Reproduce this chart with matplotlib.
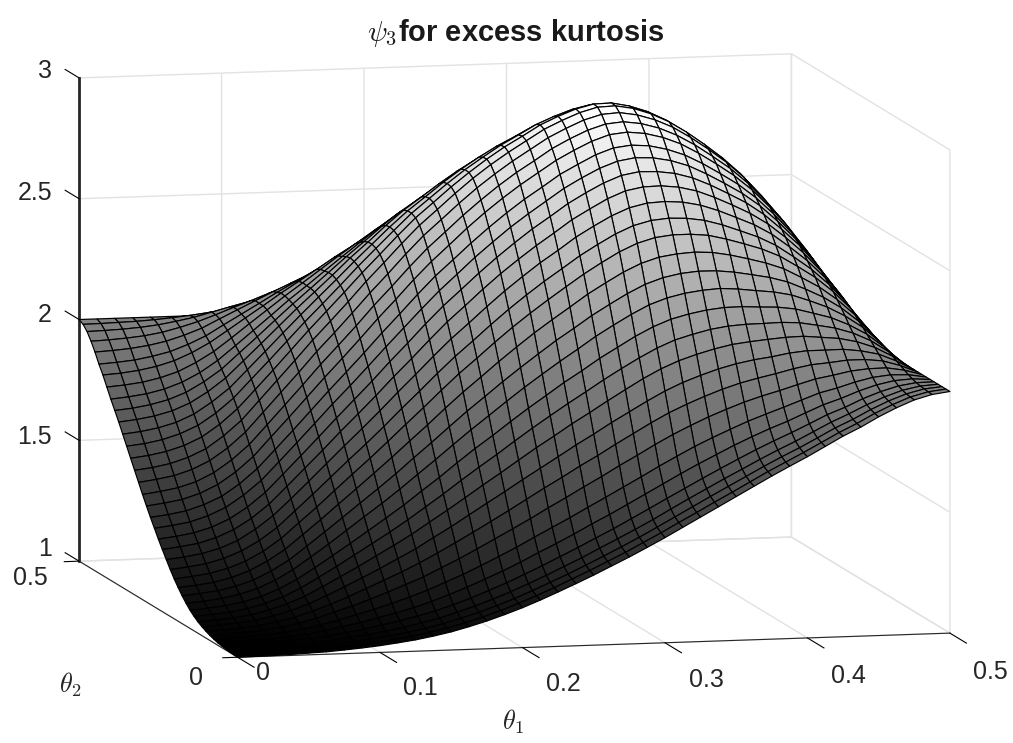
import numpy as np
import matplotlib
matplotlib.use("Agg")
import matplotlib.pyplot as plt

plt.rcParams["font.family"] = ["Liberation Sans", "DejaVu Sans"]
plt.rcParams["mathtext.fontset"] = "cm"

# surface heights, thousandths, lower triangle (the surface is symmetric)
theta_step = 0.0125
z_rows = [
    [1000],
    [1001, 1002],
    [1002, 1003, 1004],
    [1004, 1005, 1007, 1010],
    [1007, 1009, 1010, 1014, 1019],
    [1010, 1012, 1014, 1019, 1025, 1033],
    [1015, 1017, 1020, 1026, 1034, 1045, 1059],
    [1021, 1024, 1028, 1035, 1045, 1059, 1077, 1100],
    [1028, 1031, 1036, 1044, 1057, 1074, 1096, 1122, 1151],
    [1037, 1041, 1047, 1056, 1071, 1091, 1116, 1148, 1182, 1217],
    [1047, 1052, 1058, 1069, 1086, 1109, 1138, 1175, 1214, 1253, 1295],
    [1060, 1065, 1072, 1085, 1103, 1128, 1162, 1204, 1246, 1291, 1336, 1381],
    [1075, 1081, 1089, 1102, 1122, 1151, 1188, 1233, 1281, 1329, 1379, 1429, 1480],
    [1094, 1100, 1109, 1124, 1145, 1177, 1218, 1268, 1319, 1373, 1427, 1480, 1536, 1595],
    [1115, 1122, 1131, 1147, 1170, 1205, 1248, 1303, 1359, 1416, 1474, 1531, 1590, 1653, 1714],
    [1139, 1146, 1156, 1173, 1199, 1236, 1282, 1341, 1400, 1462, 1523, 1585, 1648, 1713, 1777, 1844],
    [1165, 1173, 1183, 1201, 1228, 1267, 1317, 1380, 1442, 1508, 1573, 1637, 1704, 1772, 1839, 1908, 1975],
    [1194, 1202, 1213, 1232, 1261, 1301, 1353, 1419, 1485, 1553, 1621, 1687, 1756, 1828, 1897, 1968, 2036, 2098],
    [1225, 1233, 1245, 1264, 1294, 1338, 1392, 1459, 1529, 1600, 1671, 1740, 1811, 1885, 1956, 2029, 2099, 2162, 2227],
    [1257, 1266, 1277, 1298, 1329, 1373, 1430, 1501, 1573, 1645, 1720, 1791, 1864, 1940, 2012, 2087, 2159, 2223, 2289, 2351],
    [1290, 1299, 1311, 1332, 1364, 1410, 1468, 1541, 1615, 1690, 1766, 1840, 1914, 1992, 2066, 2143, 2215, 2280, 2346, 2408, 2466],
    [1325, 1334, 1346, 1369, 1401, 1449, 1508, 1583, 1659, 1736, 1814, 1888, 1965, 2043, 2119, 2195, 2268, 2334, 2401, 2462, 2521, 2574],
    [1360, 1369, 1382, 1405, 1437, 1486, 1547, 1623, 1700, 1779, 1858, 1934, 2011, 2091, 2167, 2245, 2319, 2384, 2450, 2512, 2570, 2624, 2672],
    [1397, 1407, 1419, 1442, 1476, 1525, 1587, 1666, 1744, 1824, 1904, 1981, 2060, 2141, 2217, 2296, 2369, 2435, 2502, 2564, 2621, 2674, 2722, 2770],
    [1435, 1445, 1458, 1480, 1515, 1565, 1627, 1706, 1786, 1866, 1948, 2025, 2103, 2185, 2261, 2340, 2414, 2479, 2545, 2606, 2663, 2715, 2761, 2809, 2847],
    [1475, 1485, 1498, 1521, 1555, 1605, 1668, 1748, 1828, 1908, 1991, 2067, 2146, 2227, 2303, 2382, 2456, 2520, 2585, 2646, 2701, 2752, 2798, 2844, 2880, 2912],
    [1515, 1524, 1538, 1561, 1594, 1645, 1707, 1787, 1867, 1947, 2029, 2105, 2183, 2264, 2339, 2416, 2489, 2552, 2616, 2676, 2730, 2779, 2824, 2869, 2903, 2933, 2953],
    [1555, 1564, 1578, 1600, 1633, 1683, 1745, 1822, 1900, 1980, 2060, 2136, 2212, 2290, 2364, 2439, 2510, 2571, 2633, 2690, 2743, 2791, 2833, 2877, 2910, 2938, 2956, 2958],
    [1595, 1603, 1617, 1639, 1671, 1719, 1779, 1855, 1930, 2007, 2084, 2157, 2231, 2307, 2379, 2450, 2519, 2578, 2637, 2692, 2741, 2788, 2828, 2869, 2900, 2926, 2943, 2943, 2928],
    [1635, 1643, 1656, 1676, 1708, 1755, 1811, 1884, 1957, 2031, 2104, 2175, 2245, 2317, 2386, 2455, 2519, 2575, 2632, 2684, 2731, 2774, 2811, 2850, 2879, 2903, 2918, 2918, 2902, 2877],
    [1675, 1683, 1695, 1714, 1744, 1788, 1842, 1911, 1980, 2050, 2120, 2186, 2253, 2322, 2385, 2451, 2512, 2564, 2617, 2666, 2710, 2750, 2785, 2821, 2847, 2870, 2883, 2882, 2866, 2841, 2806],
    [1713, 1720, 1732, 1750, 1778, 1819, 1869, 1934, 1998, 2064, 2129, 2191, 2254, 2317, 2377, 2438, 2494, 2543, 2592, 2637, 2678, 2714, 2747, 2780, 2805, 2825, 2837, 2834, 2819, 2794, 2762, 2719],
    [1750, 1757, 1767, 1784, 1810, 1847, 1895, 1954, 2014, 2074, 2136, 2192, 2250, 2308, 2364, 2420, 2472, 2516, 2561, 2603, 2640, 2673, 2703, 2733, 2755, 2774, 2784, 2781, 2766, 2743, 2712, 2671, 2626],
    [1790, 1796, 1805, 1821, 1844, 1879, 1922, 1976, 2032, 2087, 2142, 2194, 2247, 2300, 2350, 2400, 2448, 2488, 2529, 2566, 2600, 2629, 2656, 2682, 2702, 2718, 2726, 2724, 2709, 2687, 2658, 2620, 2578, 2534],
    [1830, 1835, 1844, 1858, 1879, 1910, 1949, 1997, 2046, 2094, 2144, 2190, 2237, 2285, 2329, 2374, 2416, 2451, 2487, 2520, 2549, 2575, 2598, 2621, 2638, 2652, 2659, 2655, 2642, 2621, 2594, 2560, 2521, 2481, 2433],
    [1865, 1870, 1877, 1890, 1907, 1934, 1967, 2010, 2052, 2094, 2137, 2177, 2217, 2259, 2297, 2335, 2371, 2401, 2432, 2461, 2485, 2508, 2528, 2547, 2561, 2572, 2578, 2574, 2562, 2544, 2519, 2489, 2456, 2420, 2378, 2330],
    [1905, 1909, 1915, 1925, 1940, 1962, 1989, 2025, 2060, 2095, 2130, 2163, 2196, 2230, 2261, 2293, 2323, 2347, 2372, 2395, 2416, 2433, 2449, 2465, 2475, 2484, 2488, 2485, 2474, 2457, 2437, 2412, 2383, 2352, 2317, 2276, 2231],
    [1940, 1943, 1948, 1955, 1967, 1985, 2006, 2032, 2060, 2086, 2114, 2140, 2164, 2191, 2215, 2239, 2262, 2281, 2299, 2316, 2331, 2345, 2357, 2369, 2376, 2382, 2385, 2382, 2373, 2360, 2343, 2323, 2300, 2276, 2248, 2216, 2180, 2140],
    [1970, 1972, 1975, 1980, 1988, 2000, 2014, 2033, 2052, 2070, 2088, 2106, 2123, 2141, 2156, 2173, 2188, 2201, 2214, 2225, 2235, 2244, 2251, 2259, 2264, 2267, 2268, 2267, 2260, 2250, 2238, 2224, 2208, 2192, 2172, 2149, 2124, 2097, 2067],
    [1990, 1991, 1993, 1995, 1999, 2005, 2012, 2021, 2030, 2039, 2049, 2058, 2066, 2075, 2083, 2090, 2099, 2104, 2110, 2117, 2121, 2125, 2129, 2132, 2134, 2137, 2137, 2136, 2132, 2127, 2121, 2113, 2105, 2097, 2086, 2076, 2063, 2048, 2034, 2017],
    [2000, 2000, 2000, 2000, 2000, 2000, 2000, 2000, 2000, 2000, 2000, 2000, 2000, 2000, 2000, 2000, 2000, 2000, 2000, 2000, 2000,
     2000, 2000, 2000, 2000, 2000, 2000, 2000, 2000, 2000, 2000, 2000, 2000, 2000, 2000, 2000, 2000, 2000, 2000, 2000, 2000],
]
x_ticks = [0, 0.1, 0.2, 0.3, 0.4, 0.5]
y_ticks = [0, 0.5]
z_ticks = [1, 1.5, 2, 2.5, 3]
x_tick_labels = ["0", "0.1", "0.2", "0.3", "0.4", "0.5"]
y_tick_labels = ["0", "0.5"]
z_tick_labels = ["1", "1.5", "2", "2.5", "3"]


def px_text(x, y, s, **kwargs):
    """Text at a pixel position of the 1013x743 figure; the 3D axis cannot place labels this freely."""
    fig.text(x / 1013, 1 - y / 743, s, va="center", color="#262626", **kwargs)


n = len(z_rows)
z = np.zeros((n, n))
for i, row in enumerate(z_rows):
    z[i, :len(row)] = row
    z[:len(row), i] = row
z = z / 1000.0
theta = np.arange(n) * theta_step
X, Y = np.meshgrid(theta, theta)

fig = plt.figure(figsize=(10.13, 7.43), dpi=100)
ax = fig.add_axes([-0.002, 0.008, 1.0, 1.0], projection="3d", proj_type="ortho")
ax.view_init(elev=8.24, azim=-103.3)
ax.set_box_aspect((730, 687, 487), zoom=1.46)

surf = ax.plot_surface(X, Y, z, rstride=1, cstride=1, cmap="gray", vmin=1, vmax=z.max(),
                       edgecolor="k", linewidth=0.85, shade=False)
surf.set_clip_on(False)

ax.set_xlim(0, 0.5, view_margin=0)
ax.set_ylim(0, 0.5, view_margin=0)
ax.set_zlim(1, 3, view_margin=0)
ax.set_xticks(x_ticks, [""] * len(x_ticks))
ax.set_yticks(y_ticks, [""] * len(y_ticks))
ax.set_zticks(z_ticks, [""] * len(z_ticks))

for axis in (ax.xaxis, ax.yaxis, ax.zaxis):
    axis.set_pane_color((1, 1, 1, 0))
    axis.pane.set_edgecolor("#dcdcdc")
    axis._axinfo["grid"].update(color="#e2e2e2", linewidth=1.0)
    axis.line.set_color("#262626")
    axis.line.set_clip_on(False)
ax.zaxis.line.set_linewidth(2.0)

# ticks stick out of the box like in the reference
ax.xaxis._axinfo["tick"].update(inward_factor=0.0, outward_factor=-1.3)
ax.yaxis._axinfo["tick"].update(inward_factor=0.0, outward_factor=-0.26)
ax.zaxis._axinfo["tick"].update(inward_factor=0.0, outward_factor=1.1)
ax.zaxis._get_tickdir = lambda pos: 1

# tick labels
for label, x, y in zip(x_tick_labels, [263, 420, 563, 706, 848, 990], [673, 688, 684, 680, 676, 672]):
    px_text(x, y, label, ha="center", fontsize=18)
for label, x, y in zip(y_tick_labels, [196, 30], [678, 578]):
    px_text(x, y, label, ha="center", fontsize=18)
for label, y in zip(z_tick_labels, [549, 437, 315, 193, 71]):
    px_text(52, y, label, ha="right", fontsize=18)

fig.text(0.509, 0.955, r"$\psi_{\mathbf{3}}$for excess kurtosis", ha="center", va="center",
         fontsize=21, fontweight="bold", color="#1a1a1a")
px_text(513, 722, r"$\theta_1$", ha="center", fontsize=19)
px_text(70, 685, r"$\theta_2$", ha="center", fontsize=19)

fig.savefig("out.png", dpi=100)
